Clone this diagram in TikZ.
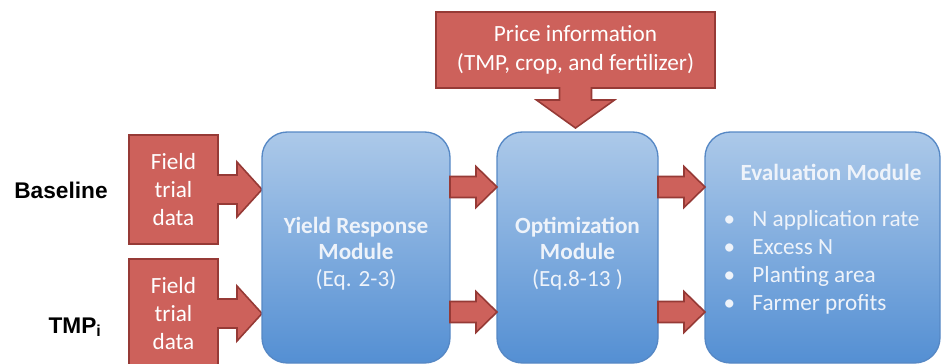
\documentclass[tikz,border=0pt]{standalone}
\usepackage{fontspec}
\setmainfont{Carlito}
\newfontfamily\sidefont{Liberation Sans}
\usetikzlibrary{calc,backgrounds}

\definecolor{redfill}{RGB}{205,97,91}
\definecolor{redline}{RGB}{150,58,54}
\definecolor{bluetop}{RGB}{172,201,233}
\definecolor{bluebot}{RGB}{84,143,211}
\definecolor{blueline}{RGB}{86,136,197}
\definecolor{boxtext}{RGB}{238,243,250}

\tikzset{every picture/.style={line width=0.75pt}}
\tikzset{
  redbox/.style={draw=redline, fill=redfill, line width=1.2pt, line join=miter},
  redtext/.style={text=white, align=center, outer sep=0pt, inner sep=0pt, font=\fontsize{17.4}{21}\selectfont},
  module/.style={draw=blueline, top color=bluetop, bottom color=bluebot, rounded corners=19pt, line width=1pt, outer sep=0pt, minimum height=173.25pt},
  moduletext/.style={text=boxtext, align=center, font=\fontsize{17.4}{20}\selectfont\bfseries},
  sidelabel/.style={font=\sidefont\fontsize{17}{20}\selectfont\bfseries},
  fatarrow/.style={redbox, to path={let \p1=(\tikztostart), \p2=(\tikztotarget) in
    (\x1,\y1+7.875pt) -- (\x2-15.75pt,\y1+7.875pt) -- (\x2-15.75pt,\y1+15.375pt) -- (\x2,\y1)
    -- (\x2-15.75pt,\y1-15.375pt) -- (\x2-15.75pt,\y1-7.875pt) -- (\x1,\y1-7.875pt) -- cycle}}
}

\begin{document}
\begin{tikzpicture}[x=0.75pt,y=0.75pt,yscale=-1,xscale=1]
	\useasboundingbox (0,0) rectangle (943,364);
	\clip (0,0) rectangle (943,364);
	
	% rows of the arrows
	\coordinate (row1) at (0,187);
	\coordinate (row2) at (0,312);
	
	%Rounded Rect [id:yield]
	\node[module, minimum width=141pt] (yield) at (356,247.5) {};
	%Rounded Rect [id:opt]
	\node[module, minimum width=120.75pt] (opt) at (577.5,247.5) {};
	%Rounded Rect [id:eval]
	\node[module, minimum width=176.25pt] (eval) at (822.5,247.5) {};
	
	% Text Node
	\node[moduletext] (yieldtxt) at ($(yield)+(0,6)$) {Yield Response\\Module\\{\mdseries (Eq. 2-3)}};
	% Text Node
	\node[moduletext] (opttxt) at ($(opt)+(0,6)$) {Optimization\\Module\\{\mdseries (Eq.8-13 )}};
	% Text Node
	\node[moduletext] (evaltitle) at ($(eval.north)+(8.5,40)$) {Evaluation Module};
	% Text Node
	\node[text=boxtext, anchor=west, align=left, inner sep=0pt, font=\fontsize{17.4}{21}\selectfont] (evallist) at ($(eval.north west)+(18,130)$) {\makebox[21.75pt][l]{\textbullet}N application rate\\
		\makebox[21.75pt][l]{\textbullet}Excess N\\
		\makebox[21.75pt][l]{\textbullet}Planting area\\
		\makebox[21.75pt][l]{\textbullet}Farmer profits};
	
	% Text Node
	\node[redtext, minimum width=66.75pt, minimum height=81.75pt] (field1) at (173.5,189.5) {Field\\trial\\data};
	% Text Node
	\node[redtext, minimum width=66.75pt, minimum height=81.75pt] (field2) at (173.5,313.5) {Field\\trial\\data};
	% Text Node
	\node[redtext, minimum width=209.25pt, minimum height=57pt, font=\fontsize{17.4}{21.75}\selectfont] (price) at (575.5,50) {Price information\\(TMP, crop, and fertilizer)};
	
	% Text Node
	\node[sidelabel, anchor=base] (baseline) at (61,198) {Baseline};
	% Text Node
	\node[sidelabel, anchor=base] (tmp) at (75,333) {TMP\textsubscript{i}};
	
	\begin{scope}[on background layer]
		%Shape: Right Arrow Callout [id:field1]
		\draw[redbox] (field1.north west) -- (field1.north east) -- ++(0,40) -- ++(19,0) -- ++(0,-13) -- (field1.east -| yield.west) -- ++(-25,27.5) -- ++(0,-13) -- ++(-19,0) -- (field1.south east) -- (field1.south west) -- cycle;
		%Shape: Right Arrow Callout [id:field2]
		\draw[redbox] (field2.north west) -- (field2.north east) -- ++(0,40) -- ++(19,0) -- ++(0,-13) -- (field2.east -| yield.west) -- ++(-25,27.5) -- ++(0,-13) -- ++(-19,0) -- (field2.south east) -- (field2.south west) -- cycle;
		%Shape: Down Arrow Callout [id:price]
		\draw[redbox] (price.north west) -- (price.north east) -- (price.south east) -- ($(price.south)+(16,0)$) -- ++(0,12) -- ++(23,0) -- ++(-39,28) -- ++(-39,-28) -- ++(23,0) -- ++(0,-12) -- (price.south west) -- cycle;
	\end{scope}
	
	%Shape: Right Arrow
	\draw[fatarrow] (yield.east |- row1) to (opt.west |- row1);
	\draw[fatarrow] (yield.east |- row2) to (opt.west |- row2);
	\draw[fatarrow] (opt.east |- row1) to (eval.west |- row1);
	\draw[fatarrow] (opt.east |- row2) to (eval.west |- row2);
	
\end{tikzpicture}
\end{document}
